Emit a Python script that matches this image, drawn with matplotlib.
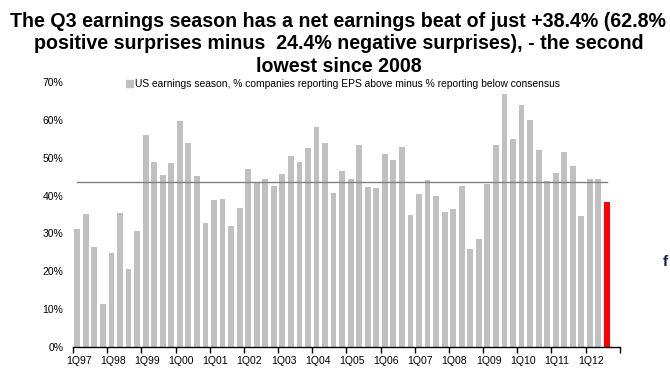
import numpy as np
import matplotlib
matplotlib.use('Agg')
import matplotlib.pyplot as plt
from matplotlib.patches import Patch

# net beat per quarter, 1Q97 .. 3Q12 (% above minus % below consensus)
net_beat = [31.2, 35.2, 26.4, 11.5, 24.9, 35.3, 20.7, 30.6,
            55.9, 48.8, 45.4, 48.6, 59.6, 53.8, 45.2, 32.8,
            38.8, 39.1, 32.0, 36.8, 47.0, 43.6, 44.4, 42.5,
            45.6, 50.4, 48.7, 52.5, 58.1, 53.8, 40.7, 46.4,
            44.4, 53.2, 42.3, 42.0, 50.9, 49.4, 52.7, 35.0,
            40.4, 44.1, 39.8, 35.7, 36.4, 42.5, 25.9, 28.5,
            43.1, 53.4, 66.7, 54.9, 63.9, 59.8, 51.9, 43.8,
            46.0, 51.4, 47.7, 34.5, 44.4, 44.4, 38.4]
average = 43.5
year_labels = [f'1Q{y % 100:02d}' for y in range(1997, 2013)]
yticks = [0, 10, 20, 30, 40, 50, 60, 70]

title = ('The Q3 earnings season has a net earnings beat of just +38.4% (62.8%\n'
         'positive surprises minus  24.4% negative surprises), - the second\n'
         'lowest since 2008')
legend_label = 'US earnings season, % companies reporting EPS above minus % reporting below consensus'

plt.rcParams['font.family'] = ['Liberation Sans', 'DejaVu Sans']

fig = plt.figure(figsize=(6.7, 3.76), dpi=100)
ax = fig.add_axes([0.109, 0.076, 0.816, 0.707])

x = np.arange(len(net_beat))
colors = ['#c0c0c0'] * (len(net_beat) - 1) + ['#ff0000']
ax.bar(x, net_beat, width=0.68, color=colors, zorder=2)
ax.plot([x[0], x[-1]], [average, average], color='#808080', lw=1.0, zorder=3)

ax.set_xlim(-0.5, 63.5)
ax.set_ylim(0, 70)
ax.set_yticks(yticks)
ax.set_yticklabels([f'{v}%' for v in yticks], fontsize=7.5)
ax.tick_params(axis='y', length=0, pad=7)

ax.set_xticks(np.arange(-0.5, 64, 4))
ax.set_xticklabels([])
ax.tick_params(axis='x', which='major', length=4, width=1, direction='out')
ax.set_xticks(np.arange(0, 64, 4) + 0.15, minor=True)
ax.set_xticklabels(year_labels, minor=True, fontsize=7.5)
ax.tick_params(axis='x', which='minor', length=0, pad=6.5)

for s in ['top', 'right', 'left']:
    ax.spines[s].set_visible(False)
ax.spines['bottom'].set_linewidth(1.0)

ax.legend(handles=[Patch(color='#c0c0c0', label=legend_label)],
          loc='upper center', bbox_to_anchor=(0.494, 1.035), frameon=False,
          fontsize=7.4, handlelength=0.7, handleheight=0.7, handletextpad=0.15,
          borderpad=0.2)

fig.text(0.505, 0.968, title, ha='center', va='top', fontsize=14.1,
         fontweight='bold', linespacing=1.23)
fig.text(0.989, 1 - 262 / 376, 'f', ha='left', va='center', fontsize=11,
         fontweight='bold', color='#101a4a')

fig.savefig('out.png', dpi=100)
